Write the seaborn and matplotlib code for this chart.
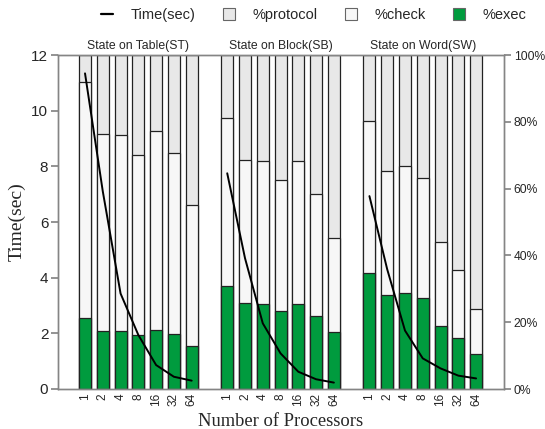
import numpy as np
import pandas as pd
import matplotlib
matplotlib.use("Agg")
import matplotlib.pyplot as plt
import matplotlib.transforms as mtransforms
from matplotlib.lines import Line2D
from matplotlib.patches import Patch
import seaborn as sns

# ---------------- data ----------------
procs = ["1", "2", "4", "8", "16", "32", "64"]
groups = ["State on Table(ST)", "State on Block(SB)", "State on Word(SW)"]

# percentages of total time
st_exec = [21.2, 17.5, 17.5, 16.2, 17.7, 16.5, 13.0]
st_check = [70.7, 58.9, 58.4, 54.0, 59.5, 54.3, 42.2]
st_protocol = [8.1, 23.6, 24.1, 29.8, 22.8, 29.2, 44.8]

sb_exec = [30.7, 25.7, 25.5, 23.4, 25.5, 21.9, 17.0]
sb_check = [50.5, 43.0, 42.7, 39.3, 42.8, 36.5, 28.2]
sb_protocol = [18.8, 31.3, 31.8, 37.3, 31.7, 41.6, 54.8]

sw_exec = [34.7, 28.0, 28.7, 27.3, 19.0, 15.2, 10.4]
sw_check = [45.6, 37.2, 38.0, 36.0, 25.0, 20.5, 13.5]
sw_protocol = [19.7, 34.8, 33.3, 36.7, 56.0, 64.3, 76.1]

# execution time (sec)
st_time = [11.34, 7.1, 3.43, 1.94, 0.86, 0.44, 0.30]
sb_time = [7.75, 4.7, 2.36, 1.28, 0.62, 0.35, 0.23]
sw_time = [6.93, 4.3, 2.10, 1.10, 0.74, 0.48, 0.38]

# ---------------- build table ----------------
execs = [st_exec, sb_exec, sw_exec]
checks = [st_check, sb_check, sw_check]
protos = [st_protocol, sb_protocol, sw_protocol]
times = [st_time, sb_time, sw_time]

rows = []
for g, name in enumerate(groups):
    for i, p in enumerate(procs):
        pos = g * (len(procs) + 1) + i
        e = execs[g][i]
        c = checks[g][i]
        pr = protos[g][i]
        rows.append(dict(group=name, procs=p, pos=pos,
                         exec_top=e, check_top=e + c, total=e + c + pr,
                         time=times[g][i]))
df = pd.DataFrame(rows)

# ---------------- style ----------------
sns.set_theme(style="white")
plt.rcParams["font.family"] = ["Liberation Sans", "DejaVu Sans"]

c_protocol = "#e8e8e8"
c_check = "#f7f7f7"
c_exec = "#009b3e"
spine_c = "#858585"

fig = plt.figure(figsize=(5.45, 4.29), dpi=100)
ax = fig.add_axes([58 / 545, 1 - 389 / 429, (504 - 58) / 545, (389 - 55) / 429])
ax2 = ax.twinx()

bar_kw = dict(native_scale=True, width=0.675, edgecolor="#222222",
              linewidth=0.9, errorbar=None, ax=ax)
sns.barplot(data=df, x="pos", y="total", color=c_protocol, saturation=1, **bar_kw)
sns.barplot(data=df, x="pos", y="check_top", color=c_check, saturation=1, **bar_kw)
sns.barplot(data=df, x="pos", y="exec_top", color=c_exec, saturation=1, **bar_kw)

sns.lineplot(data=df, x="pos", y="time", units="group", estimator=None,
             color="black", linewidth=1.4, ax=ax2, legend=False)

ax.set_xlim(-1.52, 23.57)
ax.set_ylim(0, 100)
ax2.set_ylim(0, 12)

# percent axis on the right, time axis on the left
ax.yaxis.tick_right()
ax.yaxis.set_label_position("right")
ax.set_yticks([0, 20, 40, 60, 80, 100])
ax.set_yticklabels(["0%", "20%", "40%", "60%", "80%", "100%"], fontsize=8.7)
ax.set_ylabel("")
ax2.yaxis.tick_left()
ax2.yaxis.set_label_position("left")
ax2.set_yticks([0, 2, 4, 6, 8, 10, 12])
ax2.set_yticklabels(["0", "2", "4", "6", "8", "10", "12"], fontsize=11)
ax2.set_ylabel("Time(sec)", family=["Liberation Serif"], fontsize=14, labelpad=4)

ax.set_xticks(df["pos"].tolist())
ax.set_xticklabels(df["procs"].tolist(), rotation=90, fontsize=8.5)
ax.set_xlabel("Number of Processors", family=["Liberation Serif"], fontsize=13.3,
              labelpad=5)
ax2.set_xlabel("")

for a in (ax, ax2):
    for s in a.spines.values():
        s.set_color(spine_c)
        s.set_linewidth(1.0)
    a.grid(False)
ax.tick_params(axis="y", which="both", right=True, left=False, length=5,
               color=spine_c, pad=2)
ax2.tick_params(axis="y", which="both", left=True, right=False, length=5,
                color=spine_c, pad=2)
ax.tick_params(axis="x", length=0, pad=3)
ax2.tick_params(axis="x", length=0)

# group titles
trans = mtransforms.blended_transform_factory(ax.transData, ax.transAxes)
for g, name in enumerate(groups):
    cx = g * (len(procs) + 1) + (len(procs) - 1) / 2
    ax.text(cx, 1.027, name, transform=trans, ha="center", va="center",
            fontsize=8.8)

# legend
handles = [Line2D([0], [0], color="black", linewidth=1.6),
           Patch(facecolor=c_protocol, edgecolor="#666666", linewidth=0.8),
           Patch(facecolor=c_check, edgecolor="#666666", linewidth=0.8),
           Patch(facecolor=c_exec, edgecolor="#666666", linewidth=0.8)]
labels = ["Time(sec)", "%protocol", "%check", "%exec"]
fig.legend(handles, labels, ncol=4, loc="center", bbox_to_anchor=(0.576, 0.965),
           frameon=False, fontsize=10.5, handlelength=0.85, handleheight=0.85,
           handletextpad=1.2, columnspacing=1.85, borderaxespad=0)

fig.savefig("out.png", dpi=100)
